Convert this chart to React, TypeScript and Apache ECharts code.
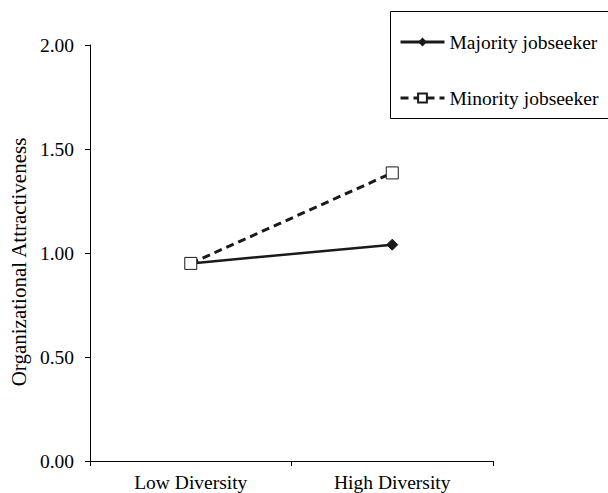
import React, { useEffect, useRef } from "react";
import * as echarts from "echarts";

const categories = ["Low Diversity", "High Diversity"];
const majority = [0.95, 1.04];
const minority = [0.95, 1.385];
const yTicks = { min: 0, max: 2, interval: 0.5 };

const FONT = "'Liberation Serif', 'Times New Roman', serif";

export default function App() {
  const ref = useRef<HTMLDivElement>(null);
  useEffect(() => {
    const chart = echarts.init(ref.current!, null, { renderer: "svg" });
    chart.setOption({
      animation: false,
      backgroundColor: "#fff",
      textStyle: { fontFamily: FONT, color: "#000" },
      grid: { left: 89, right: 115, top: 45, bottom: 32, containLabel: false },
      legend: {
        orient: "vertical",
        left: 394,
        top: 27,
        itemWidth: 44,
        itemHeight: 11,
        itemGap: 36,
        lineStyle: { width: 3 },
        textStyle: { fontFamily: FONT, fontSize: 19.5, color: "#000" },
        data: ["Majority jobseeker", "Minority jobseeker"],
      },
      graphic: [
        {
          type: "rect",
          shape: { x: 390.5, y: 11.5, width: 220, height: 107 },
          style: { fill: "none", stroke: "#000", lineWidth: 1 },
          silent: true,
        },
      ],
      xAxis: {
        type: "category",
        data: categories,
        boundaryGap: true,
        axisLine: { lineStyle: { color: "#000", width: 1 } },
        axisTick: { show: true, length: 5, lineStyle: { color: "#000" } },
        axisLabel: { color: "#000", fontFamily: FONT, fontSize: 19.5, margin: 11 },
      },
      yAxis: {
        type: "value",
        min: yTicks.min,
        max: yTicks.max,
        interval: yTicks.interval,
        name: "Organizational Attractiveness",
        nameLocation: "middle",
        nameGap: 60,
        nameTextStyle: { color: "#000", fontFamily: FONT, fontSize: 21, padding: [0, 18, 0, 0] },
        splitLine: { show: false },
        axisLine: { show: true, lineStyle: { color: "#000", width: 1 } },
        axisTick: { show: true, length: 5, lineStyle: { color: "#000" } },
        axisLabel: {
          color: "#000",
          fontFamily: FONT,
          fontSize: 19.5,
          margin: 16,
          formatter: (v: number) => v.toFixed(2),
        },
      },
      series: [
        {
          name: "Majority jobseeker",
          type: "line",
          data: majority,
          symbol: "diamond",
          symbolSize: 11,
          z: 2,
          lineStyle: { color: "#1a1a1a", width: 2.5, type: "solid" },
          itemStyle: { color: "#1a1a1a", borderColor: "#1a1a1a" },
        },
        {
          name: "Minority jobseeker",
          type: "line",
          data: minority,
          symbol: "rect",
          symbolSize: 12,
          z: 3,
          lineStyle: { color: "#1a1a1a", width: 3, type: [8, 5] },
          itemStyle: { color: "#fff", borderColor: "#1a1a1a", borderWidth: 1 },
        },
      ],
    });
    return () => chart.dispose();
  }, []);
  return (
    <div
      ref={ref}
      style={{ position: "fixed", left: 0, top: 0, width: 608, height: 493 }}
    />
  );
}
